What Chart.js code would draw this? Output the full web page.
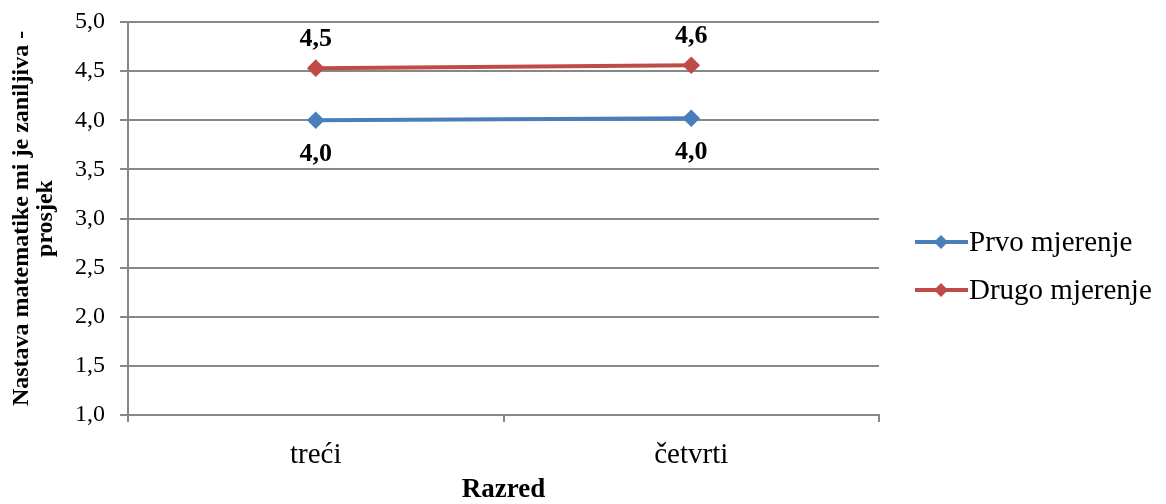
<!DOCTYPE html>
<html>
<head>
<meta charset="utf-8">
<script src="https://cdn.jsdelivr.net/npm/chart.js@4/dist/chart.umd.min.js"></script>
<style>
  html, body { margin: 0; padding: 0; background: #fff; }
  #wrap { position: relative; width: 1166px; height: 504px; }
</style>
</head>
<body>
<div id="wrap"><canvas id="chart"></canvas></div>
<script>
// ── Podaci ───────────────────────────────────────────────────────────────────
const RAZREDI      = ['treći', 'četvrti'];
const PRVO         = [4.00, 4.02];
const DRUGO        = [4.53, 4.56];
const PRVO_LABELS  = ['4,0', '4,0'];
const DRUGO_LABELS = ['4,5', '4,6'];
const Y_TICKS      = [1.0, 1.5, 2.0, 2.5, 3.0, 3.5, 4.0, 4.5, 5.0];

const SERIF = "'Liberation Serif', 'Times New Roman', serif";
const GRID  = '#878787';
const BLUE  = '#4a7ebb';
const RED   = '#be4b48';

// ── Oznake vrijednosti iznad / ispod točaka ─────────────────────────────────
const valueLabels = {
  id: 'valueLabels',
  afterDatasetsDraw(chart) {
    const ctx = chart.ctx;
    ctx.save();
    ctx.font = `bold 26px ${SERIF}`;
    ctx.fillStyle = '#000';
    ctx.textAlign = 'center';
    ctx.textBaseline = 'middle';
    chart.data.datasets.forEach((ds, i) => {
      chart.getDatasetMeta(i).data.forEach((pt, j) => {
        const dy = ds.labelPos === 'above' ? -29 : 34;
        ctx.fillText(ds.valueText[j], pt.x, pt.y + dy);
      });
    });
    ctx.restore();
  }
};

// ── Legenda desno (linija + romb) ────────────────────────────────────────────
const sideLegend = {
  id: 'sideLegend',
  afterDraw(chart) {
    const ctx = chart.ctx;
    ctx.save();
    chart.data.datasets.forEach((ds, i) => {
      const y = 242 + i * 48;
      const x0 = 915, x1 = 968, xm = 941;
      ctx.strokeStyle = ds.borderColor;
      ctx.lineWidth = 4;
      ctx.beginPath(); ctx.moveTo(x0, y); ctx.lineTo(x1, y); ctx.stroke();
      ctx.fillStyle = ds.borderColor;
      ctx.beginPath();
      ctx.moveTo(xm, y - 7); ctx.lineTo(xm + 7, y); ctx.lineTo(xm, y + 7); ctx.lineTo(xm - 7, y);
      ctx.closePath(); ctx.fill();
      ctx.fillStyle = '#000';
      ctx.font = `29px ${SERIF}`;
      ctx.textAlign = 'left';
      ctx.textBaseline = 'middle';
      ctx.fillText(ds.label, 969, y + 1);
    });
    ctx.restore();
  }
};

new Chart(document.getElementById('chart'), {
  type: 'line',
  data: {
    labels: RAZREDI,
    datasets: [
      {
        label: 'Prvo mjerenje',
        data: PRVO,
        valueText: PRVO_LABELS,
        labelPos: 'below',
        borderColor: BLUE,
        backgroundColor: BLUE,
        borderWidth: 4,
        pointStyle: 'rectRot',
        pointRadius: 6,
        pointHoverRadius: 6,
        tension: 0,
      },
      {
        label: 'Drugo mjerenje',
        data: DRUGO,
        valueText: DRUGO_LABELS,
        labelPos: 'above',
        borderColor: RED,
        backgroundColor: RED,
        borderWidth: 4,
        pointStyle: 'rectRot',
        pointRadius: 6,
        pointHoverRadius: 6,
        tension: 0,
      },
    ]
  },
  options: {
    responsive: true,
    maintainAspectRatio: false,
    animation: false,
    layout: { padding: { top: 22, right: 287, left: 0, bottom: 0 } },
    plugins: {
      legend: { display: false },
      tooltip: { enabled: false },
    },
    scales: {
      x: {
        offset: true,
        grid: {
          offset: true,
          drawOnChartArea: false,
          drawTicks: true,
          tickLength: 7,
          color: GRID,
          lineWidth: 2,
        },
        border: { color: GRID, width: 2 },
        ticks: { color: '#000', font: { family: SERIF, size: 29 }, padding: 16 },
        title: {
          display: true,
          text: 'Razred',
          color: '#000',
          font: { family: SERIF, size: 27, weight: 'bold', lineHeight: 1 },
          padding: { top: 0, bottom: 0 },
        },
        afterFit(scale) { scale.height = 89; },
      },
      y: {
        min: 1, max: 5,
        afterBuildTicks(scale) { scale.ticks = Y_TICKS.map(v => ({ value: v })); },
        grid: {
          color: GRID,
          lineWidth: 2,
          drawTicks: true,
          tickLength: 8,
        },
        border: { color: GRID, width: 2 },
        ticks: {
          color: '#000',
          font: { family: SERIF, size: 24 },
          padding: 15,
          callback: v => v.toFixed(1).replace('.', ','),
        },
        title: {
          display: true,
          text: ['Nastava matematike mi je zaniljiva -', 'prosjek'],
          color: '#000',
          font: { family: SERIF, size: 24, weight: 'bold', lineHeight: 1 },
          padding: { top: 10, bottom: 0 },
        },
        afterFit(scale) {
          scale.width = 128;
          scale.paddingTop = 0;
          scale.paddingBottom = 0;
        },
      }
    }
  },
  plugins: [valueLabels, sideLegend]
});
</script>
</body>
</html>
